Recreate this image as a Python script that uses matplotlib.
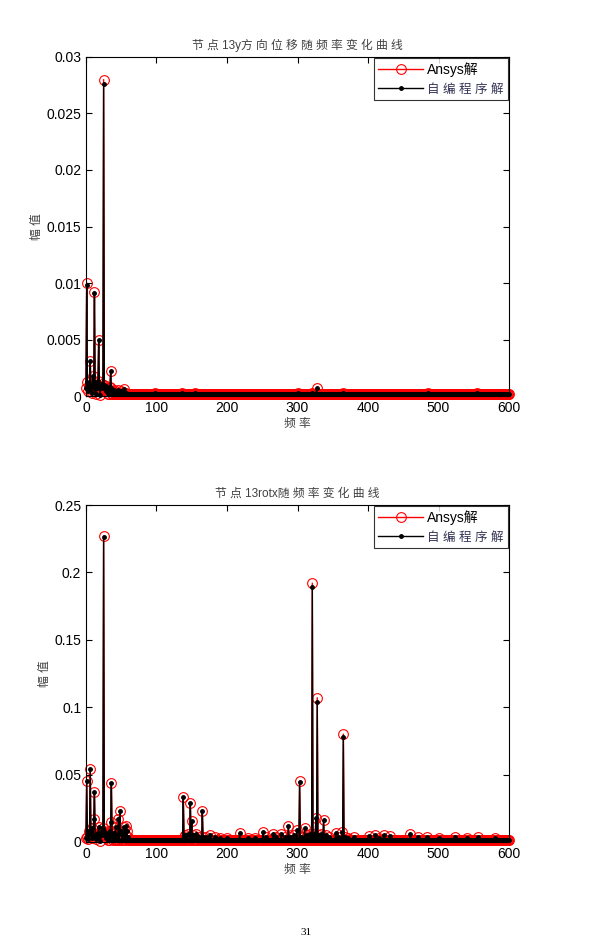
import numpy as np
import matplotlib.pyplot as plt

plt.rcParams['font.family'] = ['Liberation Sans', 'Noto Sans CJK SC']

freq = np.arange(0, 601, 1)   # 频率采样点 (Hz)

# 节点13 y方向位移: 基线 + 峰值点 (Ansys解)
y_base = 0.00015
y_pk_f = [0, 1, 2, 3, 4, 5, 6, 7, 8, 9, 10, 11, 12, 13, 14, 15, 16, 17, 18, 19,
          20, 21, 22, 23, 24, 25, 26, 27, 28, 29, 30, 32, 34, 35, 36, 38, 40, 42,
          45, 48, 50, 54, 57, 98, 136, 155, 300, 320, 327, 365, 485, 555, 562]
y_pk_a = [0.0007, 0.0100, 0.0012, 0.0004, 0.0009, 0.0006, 0.0031, 0.0008, 0.0003, 0.0010,
          0.0018, 0.0012, 0.0092, 0.0006, 0.0002, 0.0010, 0.0007, 0.0013, 0.0050, 0.0008,
          0.00005, 0.0009, 0.0011, 0.0007, 0.0008, 0.0280, 0.0010, 0.0006, 0.0009, 0.0004,
          0.0007, 0.0005, 0.0008, 0.0022, 0.0007, 0.0004, 0.0005, 0.0003,
          0.0005, 0.0003, 0.0004, 0.0006, 0.0003, 0.0003, 0.0003, 0.0003, 0.0003, 0.0003,
          0.0007, 0.0003, 0.0003, 0.0003, 0.0002]
# 自编程序解与Ansys解不同的点
y_own_f = [25, 12, 1]
y_own_a = [0.0276, 0.0091, 0.0098]

# 节点13 rotx
r_base = 0.0015
r_pk_f = [0, 1, 2, 3, 4, 5, 6, 7, 8, 9, 10, 11, 12, 13, 14, 15, 16, 17, 18, 19,
          20, 21, 22, 23, 24, 25, 26, 27, 28, 29, 30, 32, 34, 35, 36, 37, 38, 40,
          42, 44, 46, 48, 49, 50, 52, 54, 56, 57, 58, 60,
          138, 139, 141, 144, 148, 149, 150, 152, 156, 160, 165, 166, 170, 176, 183,
          190, 200, 218, 230, 240, 251, 256, 265, 270, 277, 282, 287, 290, 295, 299,
          303, 305, 310, 314, 318, 321, 323, 326, 328, 330, 334, 337, 340, 345, 354,
          358, 363, 365, 367, 372, 380, 402, 410, 416, 422, 431, 460, 471, 484, 500,
          523, 540, 556, 580]
r_pk_a = [0.003, 0.045, 0.004, 0.002, 0.008, 0.006, 0.054, 0.006, 0.003, 0.010,
          0.004, 0.017, 0.037, 0.005, 0.002, 0.006, 0.004, 0.007, 0.011, 0.004,
          0.001, 0.006, 0.008, 0.005, 0.010, 0.227, 0.008, 0.005, 0.007, 0.003,
          0.006, 0.004, 0.008, 0.015, 0.0435, 0.006, 0.004, 0.007,
          0.011, 0.005, 0.017, 0.023, 0.006, 0.008, 0.004, 0.011, 0.006, 0.012, 0.008, 0.004,
          0.033, 0.004, 0.005, 0.006, 0.0287, 0.004, 0.0158, 0.005, 0.006, 0.004,
          0.0232, 0.004, 0.004, 0.005, 0.004,
          0.003, 0.003, 0.007, 0.003, 0.003, 0.0077, 0.004, 0.006, 0.004, 0.0057,
          0.004, 0.012, 0.004, 0.005, 0.009,
          0.045, 0.004, 0.010, 0.005, 0.006, 0.192, 0.006, 0.0176, 0.107, 0.005,
          0.006, 0.0166, 0.005, 0.004, 0.0064,
          0.004, 0.0072, 0.080, 0.004, 0.003, 0.004, 0.0047, 0.005, 0.003, 0.005,
          0.0045, 0.0062, 0.004, 0.004, 0.003,
          0.004, 0.003, 0.004, 0.003]
r_own_f = [321, 328, 365, 303, 25]
r_own_a = [0.189, 0.104, 0.078, 0.0445, 0.226]


def series(base, pk_f, pk_a, own_f=(), own_a=()):
    a = np.full(freq.shape, base)
    a[np.array(pk_f)] = pk_a
    b = a.copy()
    if len(own_f):
        b[np.array(own_f)] = own_a
    return a, b


fig = plt.figure(figsize=(5.98, 9.42), dpi=100)
txt = '#404040'

panels = [
    ([0.1438, 0.5796, 0.7074, 0.3599], series(y_base, y_pk_f, y_pk_a, y_own_f, y_own_a),
     0.03, 0.005, '节 点 13y方 向 位 移 随 频 率 变 化 曲 线'),
    ([0.1438, 0.1062, 0.7074, 0.3577], series(r_base, r_pk_f, r_pk_a, r_own_f, r_own_a),
     0.25, 0.05, '节 点 13rotx随 频 率 变 化 曲 线'),
]

for rect, (ansys, own), ymax, ystep, title in panels:
    ax = fig.add_axes(rect)
    ax.plot(freq, ansys, color='red', lw=1, marker='o', ms=7, mfc='none', mew=0.8,
            label='Ansys解', clip_on=False)
    ax.plot(freq, own, color='black', lw=1, marker='.', ms=5, label='自 编 程 序 解',
            clip_on=False)
    ax.set_xlim(0, 600)
    ax.set_ylim(0, ymax)
    ax.set_xticks(np.arange(0, 601, 100))
    ax.set_yticks(np.arange(0, ymax + ystep / 2, ystep))
    ax.set_yticklabels(['0'] + ['%g' % v for v in np.arange(ystep, ymax + ystep / 2, ystep)])
    ax.tick_params(direction='in', top=True, right=True, labelsize=10, length=4)
    ax.set_title(title, fontsize=8.5, color=txt, pad=6)
    ax.set_xlabel('频 率', fontsize=8.5, color=txt, labelpad=2)
    ax.set_ylabel('幅 值', fontsize=8.5, color=txt, labelpad=2)
    leg = ax.legend(loc='upper right', fontsize=10, frameon=True, fancybox=False,
                    edgecolor='black', borderaxespad=0.1, handlelength=3.2,
                    borderpad=0.3, labelspacing=0.45, handletextpad=0.3)
    leg.get_frame().set_linewidth(0.8)
    leg.get_texts()[1].set_fontsize(9)
    leg.get_texts()[1].set_color('#333355')

fig.text(0.512, 0.007, '31', fontsize=8, family='Liberation Serif', ha='center')

fig.savefig('out.png', dpi=100)
